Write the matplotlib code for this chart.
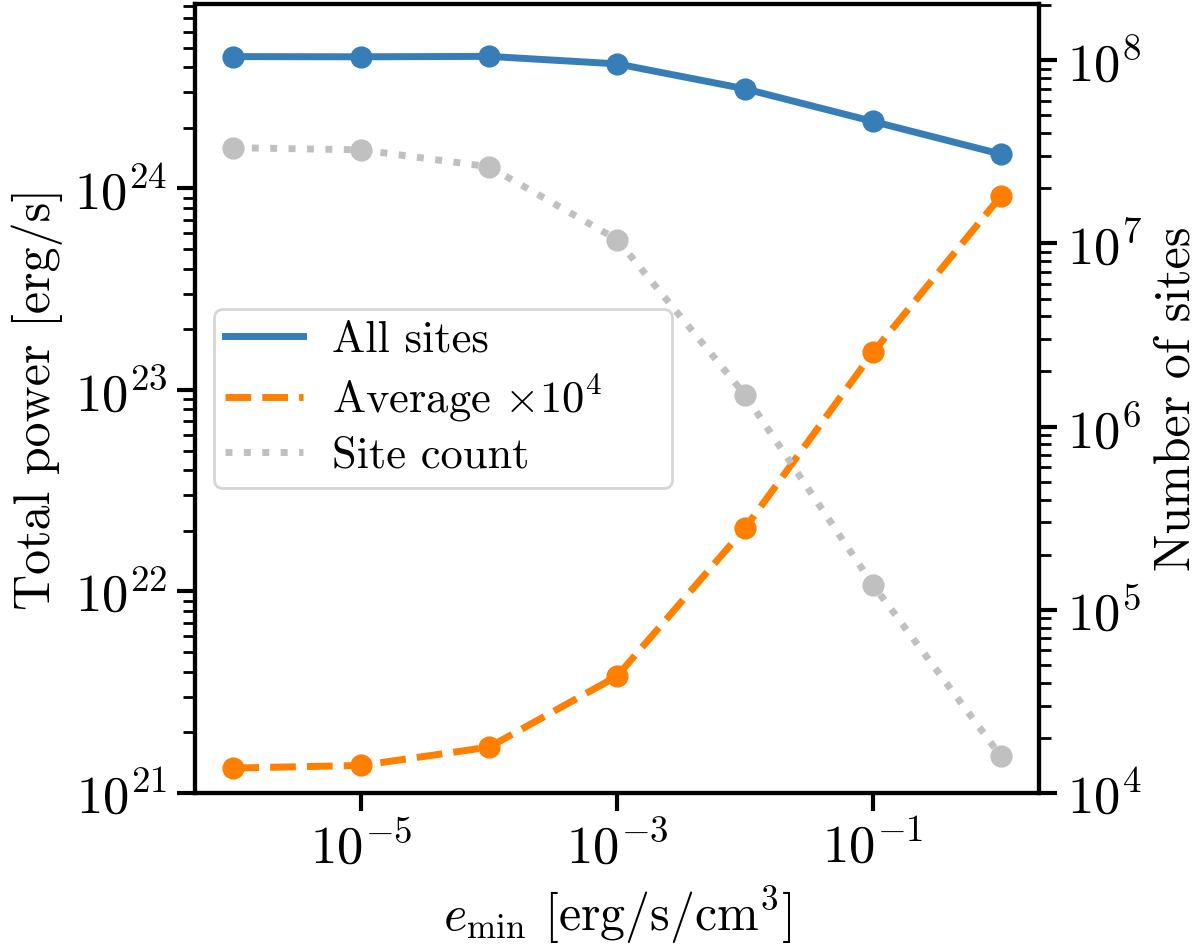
import numpy as np
from matplotlib import pyplot as plt
from matplotlib.ticker import NullLocator

plt.rcParams['font.family'] = 'serif'
plt.rcParams['font.serif'] = ['cmr10']
plt.rcParams['mathtext.fontset'] = 'cm'
plt.rcParams['axes.formatter.use_mathtext'] = True
plt.rcParams['font.size'] = 18

# data
e_min = [1e-6, 1e-5, 1e-4, 1e-3, 1e-2, 1e-1, 1e0]
total_power = [4.51e24, 4.50e24, 4.52e24, 4.15e24, 3.12e24, 2.15e24, 1.48e24]
average_power_x1e4 = [1.33e21, 1.37e21, 1.69e21, 3.80e21, 2.06e22, 1.535e23, 9.15e23]
site_count = [3.33e7, 3.24e7, 2.62e7, 1.05e7, 1.49e6, 1.37e5, 1.59e4]

blue = '#377eb8'
orange = '#ff7f00'
grey = '#c0c0c0'

fig, ax = plt.subplots(figsize=(6, 4.735), dpi=200)
fig.subplots_adjust(left=0.1625, right=0.866, bottom=0.1626, top=0.9955)
ax2 = ax.twinx()

ax.plot(e_min, total_power, '-', color=blue, lw=2.5, label='All sites')
ax.plot(e_min, total_power, 'o', color=blue, ms=7)
ax.plot(e_min, average_power_x1e4, '--', color=orange, lw=2.5, label=r'Average $\times 10^4$')
ax.plot(e_min, average_power_x1e4, 'o', color=orange, ms=7)
ax2.plot(e_min, site_count, ':', color=grey, lw=2.5, label='Site count')
ax2.plot(e_min, site_count, 'o', color=grey, ms=7)

ax.set_xscale('log')
ax.set_yscale('log')
ax2.set_yscale('log')
ax.set_xlim(10**-6.3, 10**0.3)
ax.set_ylim(1e21, 8.2e24)
ax2.set_ylim(1e4, 2.02e8)
ax.set_xticks([1e-5, 1e-3, 1e-1])
ax.xaxis.set_minor_locator(NullLocator())

for a in (ax, ax2):
    for s in a.spines.values():
        s.set_linewidth(1.5)
    a.tick_params(which='major', length=6.5, width=1.5, labelsize=19)
    a.tick_params(which='minor', length=4.3, width=1.0)

ax.set_xlabel(r'$e_\mathrm{min}$ [erg/s/cm$^3$]')
ax.set_ylabel('Total power [erg/s]')
ax2.set_ylabel('Number of sites')

lines = [ax.lines[0], ax.lines[2], ax2.lines[0]]
ax.legend(lines, [l.get_label() for l in lines], fontsize=16,
          loc='center', mode='expand', bbox_to_anchor=(0.0225, 0.4, 0.5427, 0.2),
          borderaxespad=0, borderpad=0.25, labelspacing=0.28,
          handlelength=1.75, handletextpad=0.65)

fig.savefig('out.png', dpi=200)
